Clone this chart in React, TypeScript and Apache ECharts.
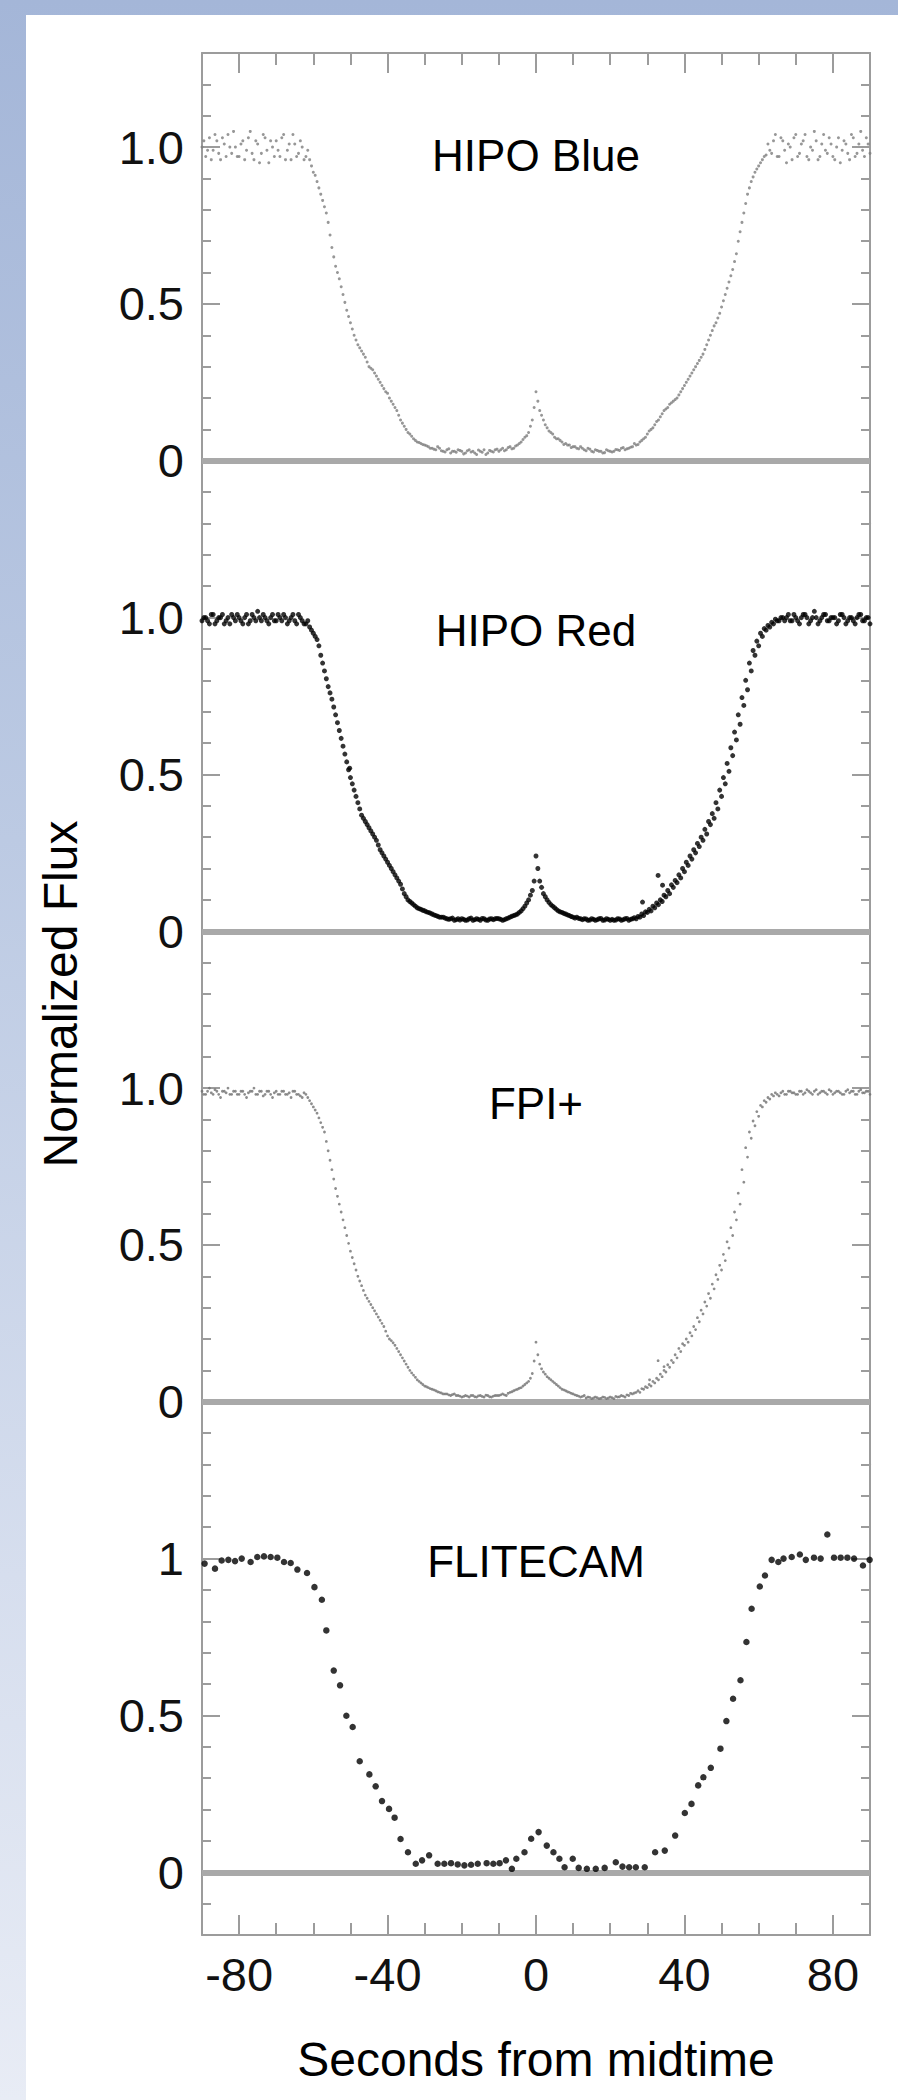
import React, { useEffect, useRef } from 'react';
import * as echarts from 'echarts';

// ---------- data ----------
// dense light curves: samples on whole seconds from -90 s, plus samples on half seconds from -89.5 s
const SAMPLE_START = -90;
const HALF_START = -89.5;

const hipoBlue = [
  1.00, 0.97, 1.03, 0.99, 1.02, 0.96, 1.01, 1.04, 0.98, 1.00,
  0.97, 1.02, 0.99, 1.05, 0.96, 1.01, 0.98, 1.03, 0.95, 1.00,
  1.02, 0.97, 1.04, 0.99, 0.96, 1.01, 0.98, 1.00, 0.97, 0.96,
  0.92, 0.89, 0.85, 0.81, 0.76, 0.68, 0.62, 0.58, 0.53, 0.48,
  0.44, 0.40, 0.37, 0.35, 0.33, 0.30, 0.29, 0.27, 0.25, 0.23,
  0.215, 0.19, 0.17, 0.145, 0.12, 0.10, 0.085, 0.07, 0.06, 0.055,
  0.05, 0.045, 0.04, 0.035, 0.04, 0.03, 0.035, 0.025, 0.03, 0.035,
  0.03, 0.025, 0.035, 0.03, 0.02, 0.03, 0.035, 0.025, 0.03, 0.035,
  0.03, 0.04, 0.035, 0.045, 0.04, 0.05, 0.06, 0.075, 0.09, 0.13,
  0.22,
  0.16, 0.13, 0.105, 0.09, 0.075, 0.07, 0.06, 0.055, 0.05, 0.045,
  0.04, 0.045, 0.035, 0.04, 0.03, 0.035, 0.03, 0.025, 0.035, 0.03,
  0.03, 0.035, 0.04, 0.035, 0.04, 0.045, 0.05, 0.06, 0.07, 0.085,
  0.10, 0.115, 0.13, 0.15, 0.165, 0.18, 0.19, 0.20, 0.22, 0.24,
  0.26, 0.28, 0.30, 0.32, 0.34, 0.37, 0.40, 0.43, 0.455, 0.49,
  0.53, 0.57, 0.61, 0.66, 0.73, 0.79, 0.85, 0.89, 0.92, 0.94,
  0.96, 0.975, 0.99, 1.02, 0.97, 1.03, 0.99, 1.01, 0.96, 1.04,
  0.98, 1.02, 0.97, 1.00, 1.05, 0.96, 1.01, 0.99, 1.03, 0.97,
  1.00, 0.95, 1.02, 0.98, 1.04, 0.97, 1.01, 0.99, 1.03, 0.98,
];
const hipoBlueHalf = [
  1.02, 0.99, 0.96, 1.04, 0.98, 1.03, 0.97, 1.00, 1.05, 0.97,
  1.01, 0.96, 1.03, 0.98, 1.02, 0.95, 1.04, 0.99, 1.02, 0.97,
  0.99, 1.03, 0.96, 1.01, 1.04, 0.97, 1.02, 0.96, 0.99, 0.94,
  0.91, 0.87, 0.83, 0.79, 0.72, 0.65, 0.60, 0.555, 0.505, 0.46,
  0.42, 0.385, 0.36, 0.34, 0.315, 0.295, 0.28, 0.26, 0.24, 0.22,
  0.20, 0.18, 0.16, 0.13, 0.11, 0.09, 0.078, 0.065, 0.058, 0.052,
  0.048, 0.04, 0.037, 0.045, 0.032, 0.028, 0.038, 0.03, 0.027, 0.033,
  0.022, 0.032, 0.028, 0.025, 0.034, 0.027, 0.02, 0.033, 0.028, 0.037,
  0.035, 0.032, 0.042, 0.038, 0.047, 0.055, 0.068, 0.08, 0.11, 0.17,
  0.19, 0.145, 0.115, 0.095, 0.085, 0.07, 0.065, 0.052, 0.05, 0.042,
  0.045, 0.038, 0.04, 0.032, 0.037, 0.028, 0.033, 0.03, 0.026, 0.032,
  0.028, 0.036, 0.033, 0.042, 0.038, 0.043, 0.055, 0.052, 0.065, 0.075,
  0.095, 0.105, 0.125, 0.14, 0.16, 0.17, 0.185, 0.195, 0.21, 0.23,
  0.25, 0.27, 0.29, 0.31, 0.33, 0.355, 0.385, 0.415, 0.44, 0.47,
  0.51, 0.55, 0.59, 0.635, 0.70, 0.76, 0.82, 0.87, 0.905, 0.93,
  0.95, 0.97, 1.01, 0.98, 1.04, 0.97, 1.02, 0.95, 1.00, 1.03,
  0.97, 1.01, 1.04, 0.96, 0.99, 1.02, 0.97, 1.04, 0.98, 1.01,
  0.96, 1.03, 0.99, 1.01, 0.96, 1.03, 0.98, 1.05, 0.97, 1.01,
];

const hipoRed = [
  0.99, 1.00, 0.98, 1.01, 0.99, 1.00, 0.98, 1.00, 1.01, 0.99,
  1.00, 0.98, 1.01, 0.99, 1.00, 1.02, 0.99, 1.00, 0.98, 1.01,
  0.99, 1.00, 1.01, 0.98, 1.00, 0.99, 1.01, 0.99, 0.98, 0.97,
  0.95, 0.93, 0.88, 0.83, 0.78, 0.74, 0.69, 0.64, 0.59, 0.54,
  0.49, 0.45, 0.41, 0.37, 0.35, 0.33, 0.31, 0.29, 0.26, 0.24,
  0.22, 0.20, 0.18, 0.16, 0.135, 0.11, 0.095, 0.085, 0.075, 0.07,
  0.065, 0.06, 0.055, 0.05, 0.045, 0.045, 0.04, 0.04, 0.035, 0.04,
  0.04, 0.035, 0.04, 0.035, 0.04, 0.035, 0.04, 0.035, 0.04, 0.04,
  0.04, 0.035, 0.04, 0.045, 0.05, 0.055, 0.065, 0.08, 0.10, 0.13,
  0.24,
  0.16, 0.12, 0.10, 0.085, 0.075, 0.065, 0.06, 0.055, 0.05, 0.045,
  0.045, 0.04, 0.04, 0.035, 0.04, 0.035, 0.04, 0.035, 0.04, 0.035,
  0.035, 0.04, 0.035, 0.04, 0.035, 0.04, 0.04, 0.045, 0.05, 0.06,
  0.065, 0.075, 0.085, 0.095, 0.11, 0.12, 0.14, 0.155, 0.17, 0.19,
  0.21, 0.23, 0.25, 0.27, 0.29, 0.31, 0.34, 0.36, 0.39, 0.43,
  0.47, 0.51, 0.56, 0.61, 0.66, 0.72, 0.77, 0.83, 0.88, 0.91,
  0.94, 0.96, 0.97, 0.98, 0.99, 1.00, 0.99, 1.01, 0.99, 1.00,
  0.98, 1.01, 1.00, 0.99, 1.02, 0.98, 1.00, 1.01, 0.99, 1.00,
  0.98, 1.01, 1.00, 0.99, 1.00, 0.98, 1.01, 0.99, 1.00, 0.98,
];
const hipoRedHalf = [
  1.00, 0.99, 1.01, 0.98, 1.00, 1.01, 0.99, 0.98, 1.00, 1.01,
  0.99, 1.00, 0.98, 1.01, 0.99, 1.00, 1.01, 0.99, 1.00, 0.99,
  1.01, 0.99, 1.00, 0.99, 1.01, 0.98, 1.00, 0.98, 0.99, 0.96,
  0.94, 0.91, 0.855, 0.805, 0.76, 0.715, 0.665, 0.615, 0.565, 0.515,
  0.47, 0.43, 0.39, 0.36, 0.34, 0.32, 0.30, 0.275, 0.25, 0.23,
  0.21, 0.19, 0.17, 0.15, 0.12, 0.10, 0.09, 0.08, 0.072, 0.067,
  0.062, 0.058, 0.052, 0.048, 0.045, 0.042, 0.038, 0.042, 0.037, 0.036,
  0.038, 0.036, 0.042, 0.037, 0.038, 0.041, 0.036, 0.039, 0.037, 0.041,
  0.038, 0.037, 0.042, 0.048, 0.052, 0.06, 0.072, 0.09, 0.115, 0.16,
  0.20, 0.14, 0.11, 0.092, 0.08, 0.07, 0.062, 0.057, 0.052, 0.047,
  0.042, 0.041, 0.037, 0.039, 0.036, 0.038, 0.037, 0.041, 0.036, 0.038,
  0.038, 0.036, 0.039, 0.037, 0.041, 0.038, 0.043, 0.047, 0.055, 0.062,
  0.07, 0.08, 0.09, 0.10, 0.115, 0.13, 0.148, 0.162, 0.18, 0.20,
  0.22, 0.24, 0.26, 0.28, 0.30, 0.325, 0.35, 0.375, 0.41, 0.45,
  0.49, 0.535, 0.585, 0.635, 0.69, 0.745, 0.80, 0.855, 0.895, 0.925,
  0.95, 0.965, 0.975, 0.985, 0.995, 0.99, 1.00, 1.00, 0.99, 1.01,
  0.99, 1.00, 1.01, 0.98, 1.00, 1.00, 0.99, 1.01, 0.99, 1.00,
  1.00, 0.99, 1.01, 0.98, 1.00, 0.99, 1.00, 1.01, 0.99, 1.00,
];
const hipoRedStray: [number, number][] = [
  [28.7, 0.093], [32.9, 0.178], [34.1, 0.147], [-50.2, 0.52],
];

const fpiPlus = [
  0.99, 0.98, 1.00, 0.98, 0.99, 0.97, 0.99, 1.00, 0.98, 0.99,
  0.98, 0.99, 0.97, 0.99, 1.00, 0.98, 0.99, 0.98, 0.99, 0.97,
  0.99, 0.98, 0.99, 0.98, 0.97, 0.99, 0.98, 0.97, 0.98, 0.96,
  0.94, 0.92, 0.89, 0.86, 0.80, 0.74, 0.68, 0.63, 0.58, 0.53,
  0.48, 0.44, 0.40, 0.37, 0.34, 0.32, 0.30, 0.28, 0.26, 0.24,
  0.21, 0.195, 0.18, 0.16, 0.14, 0.12, 0.10, 0.085, 0.07, 0.06,
  0.05, 0.045, 0.04, 0.035, 0.03, 0.025, 0.025, 0.02, 0.025, 0.02,
  0.015, 0.02, 0.015, 0.02, 0.015, 0.02, 0.015, 0.02, 0.015, 0.02,
  0.02, 0.025, 0.02, 0.03, 0.035, 0.04, 0.045, 0.055, 0.065, 0.09,
  0.19,
  0.12, 0.095, 0.08, 0.07, 0.06, 0.05, 0.04, 0.035, 0.03, 0.025,
  0.02, 0.015, 0.02, 0.015, 0.01, 0.015, 0.01, 0.015, 0.01, 0.015,
  0.01, 0.015, 0.02, 0.015, 0.02, 0.025, 0.03, 0.03, 0.04, 0.045,
  0.05, 0.06, 0.07, 0.08, 0.095, 0.11, 0.125, 0.14, 0.16, 0.18,
  0.19, 0.21, 0.23, 0.255, 0.28, 0.305, 0.33, 0.36, 0.39, 0.42,
  0.45, 0.49, 0.53, 0.58, 0.63, 0.70, 0.78, 0.84, 0.88, 0.91,
  0.94, 0.955, 0.965, 0.975, 0.98, 0.985, 0.98, 0.99, 0.985, 0.98,
  0.99, 0.98, 0.995, 0.985, 0.99, 0.98, 0.99, 0.985, 0.995, 0.98,
  0.99, 0.985, 0.98, 0.995, 0.99, 0.98, 0.99, 0.985, 0.99, 0.98,
];
const fpiPlusHalf = [
  0.98, 0.99, 0.985, 0.995, 0.98, 0.99, 0.985, 0.98, 0.99, 0.98,
  0.99, 0.98, 0.985, 0.99, 0.98, 0.99, 0.975, 0.99, 0.98, 0.985,
  0.98, 0.99, 0.98, 0.985, 0.99, 0.98, 0.975, 0.985, 0.97, 0.95,
  0.93, 0.905, 0.875, 0.83, 0.77, 0.71, 0.655, 0.605, 0.555, 0.505,
  0.46, 0.42, 0.385, 0.355, 0.33, 0.31, 0.29, 0.27, 0.25, 0.225,
  0.20, 0.188, 0.17, 0.15, 0.13, 0.11, 0.092, 0.078, 0.065, 0.055,
  0.048, 0.042, 0.038, 0.032, 0.028, 0.025, 0.022, 0.023, 0.02, 0.018,
  0.017, 0.018, 0.02, 0.016, 0.019, 0.017, 0.021, 0.016, 0.018, 0.02,
  0.022, 0.022, 0.027, 0.032, 0.038, 0.043, 0.05, 0.06, 0.075, 0.13,
  0.15, 0.105, 0.088, 0.075, 0.065, 0.055, 0.045, 0.038, 0.032, 0.027,
  0.022, 0.018, 0.017, 0.012, 0.014, 0.012, 0.013, 0.011, 0.014, 0.012,
  0.013, 0.017, 0.016, 0.018, 0.022, 0.027, 0.028, 0.035, 0.042, 0.048,
  0.055, 0.065, 0.075, 0.088, 0.10, 0.118, 0.132, 0.15, 0.17, 0.185,
  0.20, 0.22, 0.24, 0.268, 0.292, 0.318, 0.345, 0.375, 0.405, 0.435,
  0.47, 0.51, 0.555, 0.605, 0.665, 0.74, 0.81, 0.86, 0.895, 0.925,
  0.945, 0.96, 0.97, 0.98, 0.985, 0.975, 0.99, 0.98, 0.99, 0.985,
  0.98, 0.99, 0.985, 0.99, 0.98, 0.995, 0.985, 0.99, 0.98, 0.99,
  0.985, 0.99, 0.98, 0.99, 0.985, 0.99, 0.98, 0.995, 0.985, 0.99,
];
const fpiPlusStray: [number, number][] = [
  [32.9, 0.131], [34.5, 0.112], [30.6, 0.07],
];

// FLITECAM: individual [seconds, flux] points
const flitecam: [number, number][] = [
  [-89.3, 0.984], [-86.5, 0.968], [-84.7, 0.994], [-82.9, 0.996], [-81.1, 0.992],
  [-79.3, 1.0], [-76.9, 0.989], [-75.1, 1.005], [-73.3, 1.007], [-71.5, 1.005],
  [-69.7, 1.003], [-67.9, 0.989], [-66.1, 0.986], [-64.3, 0.965], [-61.7, 0.954],
  [-59.7, 0.909], [-57.7, 0.869], [-56.5, 0.771], [-54.5, 0.643], [-52.8, 0.596],
  [-51.1, 0.499], [-49.4, 0.463], [-47.5, 0.354], [-44.9, 0.312], [-43.2, 0.274],
  [-41.5, 0.227], [-39.6, 0.202], [-38.1, 0.174], [-36.5, 0.106], [-34.5, 0.064],
  [-32.4, 0.027], [-30.7, 0.038], [-28.8, 0.054], [-26.5, 0.027], [-24.7, 0.027],
  [-22.9, 0.029], [-21.1, 0.025], [-19.3, 0.022], [-17.5, 0.024], [-15.7, 0.027],
  [-13.3, 0.029], [-11.5, 0.027], [-9.8, 0.029], [-8.1, 0.038], [-6.5, 0.011],
  [-5.3, 0.043], [-3.1, 0.064], [-1.3, 0.107], [0.7, 0.128], [2.9, 0.085],
  [4.7, 0.064], [6.3, 0.043], [7.7, 0.016], [9.9, 0.043], [11.5, 0.014],
  [13.7, 0.011], [16.1, 0.011], [18.5, 0.014], [21.5, 0.032], [23.3, 0.018],
  [25.1, 0.016], [26.9, 0.016], [29.3, 0.016], [32.1, 0.064], [34.7, 0.069],
  [37.5, 0.117], [40.1, 0.189], [41.9, 0.218], [43.7, 0.277], [45.1, 0.303],
  [47.1, 0.333], [49.7, 0.394], [51.3, 0.482], [53.1, 0.553], [55.1, 0.612],
  [56.7, 0.734], [58.1, 0.84], [60.3, 0.911], [61.7, 0.946], [63.5, 0.996],
  [65.3, 0.989], [66.7, 1.0], [68.9, 1.005], [71.1, 1.013], [72.7, 0.996],
  [74.9, 1.003], [76.7, 1.0], [78.5, 1.077], [80.3, 1.003], [82.1, 1.003],
  [83.9, 1.003], [85.7, 1.0], [88.1, 0.978], [89.9, 0.996],
];

const panelNames = ['HIPO Blue', 'HIPO Red', 'FPI+', 'FLITECAM'];
const xMajorTicks = [-80, -40, 0, 40, 80];
const xMinorTicks = [-70, -60, -50, -30, -20, -10, 10, 20, 30, 50, 60, 70];
const yMajorTicks = [0, 0.5, 1];
const yMinorTicks = [-0.2, -0.1, 0.1, 0.2, 0.3, 0.4, 0.6, 0.7, 0.8, 0.9, 1.1, 1.2];
const yTickLabels = [
  ['0', '0.5', '1.0'],
  ['0', '0.5', '1.0'],
  ['0', '0.5', '1.0'],
  ['0', '0.5', '1'],
];
const xTitle = 'Seconds from midtime';
const yTitle = 'Normalized Flux';

// ---------- layout ----------
const W = 898;
const H = 2100;
const GRID_LEFT = 202;
const GRID_RIGHT = 28;
const FRAME_TOP = 53;
const PANEL_H = 470.5;
const LABEL_OFFSETS = [102, 107, 109, 97];
const FONT = "'Liberation Sans', Arial, Helvetica, sans-serif";
const FRAME_COLOR = '#9c9c9c';
const TEXT_COLOR = '#111';

const toPairs = (vals: number[], start: number) => vals.map((v, i) => [start + i, v]);

function buildOption() {
  const grids = panelNames.map((_, i) => ({
    left: GRID_LEFT,
    right: GRID_RIGHT,
    top: FRAME_TOP + PANEL_H * i,
    height: PANEL_H,
    containLabel: false,
  }));

  const lineStyle = { color: FRAME_COLOR, width: 2 };

  const xAxes: any[] = panelNames.map((_, i) => ({
    gridIndex: i,
    type: 'value',
    min: -90,
    max: 90,
    show: false,
  }));
  const xTickAxis = (grid: number, position: string, values: number[], len: number, withLine: boolean, withLabels: boolean) => ({
    gridIndex: grid,
    type: 'value',
    position,
    min: -90,
    max: 90,
    axisLine: { show: withLine, onZero: false, lineStyle },
    axisTick: { show: true, inside: true, length: len, customValues: values, lineStyle },
    axisLabel: withLabels
      ? { show: true, customValues: xMajorTicks, margin: 16, fontSize: 47, fontFamily: FONT, color: TEXT_COLOR }
      : { show: false },
    splitLine: { show: false },
  });
  xAxes.push(xTickAxis(0, 'top', xMajorTicks, 20, true, false));
  xAxes.push(xTickAxis(0, 'top', xMinorTicks, 12, false, false));
  xAxes.push(xTickAxis(3, 'bottom', xMajorTicks, 20, true, true));
  xAxes.push(xTickAxis(3, 'bottom', xMinorTicks, 12, false, false));

  const yAxes: any[] = [];
  panelNames.forEach((_, i) => {
    const minors = i === 3 ? yMinorTicks.filter((v) => v > -0.15) : yMinorTicks;
    const base = {
      gridIndex: i,
      type: 'value',
      min: -0.2,
      max: 1.3,
      splitLine: { show: false },
    };
    const labels = yTickLabels[i];
    yAxes.push({
      ...base,
      position: 'left',
      axisLine: { show: true, onZero: false, lineStyle },
      axisTick: { show: true, inside: true, length: 18, customValues: yMajorTicks, lineStyle },
      axisLabel: {
        show: true,
        customValues: yMajorTicks,
        margin: 18,
        fontSize: 47,
        fontFamily: FONT,
        color: TEXT_COLOR,
        formatter: (v: number) => {
          const k = yMajorTicks.findIndex((m) => Math.abs(m - v) < 1e-6);
          return k >= 0 ? labels[k] : '';
        },
      },
    });
    yAxes.push({
      ...base,
      position: 'left',
      axisLine: { show: false, onZero: false },
      axisTick: { show: true, inside: true, length: 9, customValues: minors, lineStyle },
      axisLabel: { show: false },
    });
    yAxes.push({
      ...base,
      position: 'right',
      axisLine: { show: true, onZero: false, lineStyle },
      axisTick: { show: true, inside: true, length: 18, customValues: yMajorTicks, lineStyle },
      axisLabel: { show: false },
    });
    yAxes.push({
      ...base,
      position: 'right',
      axisLine: { show: false, onZero: false },
      axisTick: { show: true, inside: true, length: 9, customValues: minors, lineStyle },
      axisLabel: { show: false },
    });
  });

  const zeroLine = {
    silent: true,
    symbol: ['none', 'none'],
    z: 1,
    label: { show: false },
    lineStyle: { color: '#a9a9a9', width: 6, type: 'solid' },
    data: [{ yAxis: 0 }],
  };

  const panelData: any[] = [
    [...toPairs(hipoBlue, SAMPLE_START), ...toPairs(hipoBlueHalf, HALF_START)],
    [...toPairs(hipoRed, SAMPLE_START), ...toPairs(hipoRedHalf, HALF_START), ...hipoRedStray],
    [...toPairs(fpiPlus, SAMPLE_START), ...toPairs(fpiPlusHalf, HALF_START), ...fpiPlusStray],
    flitecam,
  ];
  const panelStyle = [
    { color: '#7d7d7d', size: 3 },
    { color: '#000000', size: 5 },
    { color: '#707070', size: 2.8 },
    { color: '#000000', size: 6.5 },
  ];

  const series: any[] = panelData.map((data, i) => ({
    type: 'scatter',
    name: panelNames[i],
    xAxisIndex: i,
    yAxisIndex: i * 4,
    data,
    symbol: 'circle',
    symbolSize: panelStyle[i].size,
    itemStyle: { color: panelStyle[i].color },
    z: 3,
    markLine: zeroLine,
  }));

  const plotCenterX = GRID_LEFT + (W - GRID_LEFT - GRID_RIGHT) / 2;
  const textStyle = (text: string, size: number) => ({
    text,
    fill: '#000',
    font: `${size}px ${FONT}`,
    fontSize: size,
    fontFamily: FONT,
    align: 'center',
    verticalAlign: 'middle',
    textAlign: 'center',
    textVerticalAlign: 'middle',
  });

  const graphic: any[] = panelNames.map((name, i) => ({
    type: 'text',
    x: plotCenterX,
    y: FRAME_TOP + PANEL_H * i + LABEL_OFFSETS[i],
    style: textStyle(name, 44),
    z: 20,
  }));
  graphic.push({
    type: 'text',
    x: plotCenterX,
    y: 2059,
    style: textStyle(xTitle, 48),
    z: 20,
  });
  graphic.push({
    type: 'text',
    x: 60,
    y: FRAME_TOP + PANEL_H * 2,
    rotation: Math.PI / 2,
    style: textStyle(yTitle, 48),
    z: 20,
  });

  return {
    animation: false,
    backgroundColor: 'transparent',
    grid: grids,
    xAxis: xAxes,
    yAxis: yAxes,
    series,
    graphic,
  };
}

export default function App() {
  const ref = useRef<HTMLDivElement>(null);
  useEffect(() => {
    if (!ref.current) return;
    const chart = echarts.init(ref.current, undefined, { renderer: 'svg' });
    chart.setOption(buildOption() as any);
    return () => chart.dispose();
  }, []);
  return (
    <div
      style={{
        position: 'absolute',
        left: 0,
        top: 0,
        width: W,
        height: H,
        overflow: 'hidden',
        background: 'linear-gradient(180deg, #a4b6d8 0%, #bccae3 40%, #d6deee 75%, #e8ecf5 100%)',
      }}
    >
      <div style={{ position: 'absolute', left: 26, top: 15, right: 0, bottom: 0, background: '#ffffff' }} />
      <div ref={ref} style={{ position: 'absolute', left: 0, top: 0, width: W, height: H }} />
    </div>
  );
}
